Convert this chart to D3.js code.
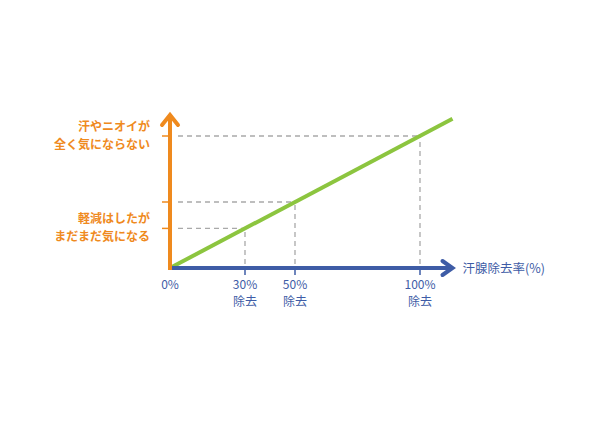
<!DOCTYPE html>
<html>
<head>
<meta charset="utf-8">
<script src="https://cdn.jsdelivr.net/npm/d3@7"></script>
<style>
  html, body { margin: 0; padding: 0; background: #fff; }
  svg { display: block; font-family: "Noto Sans CJK JP", sans-serif; }
</style>
</head>
<body>
<svg id="chart"></svg>
<script>
// removal rate levels marked on the x axis (%)
const levels = [0, 30, 50, 100];
const levelLabels = ['0%', '30%', '50%', '100%'];
const levelSub = ['', '除去', '除去', '除去'];
// effect line (removal % -> effect)
const lineX = [0, 113];
const lineY = [0, 113];
// y-axis annotations
const yLabelLevels = [100, 30];
const yLabels = [['汗やニオイが', '全く気にならない'], ['軽減はしたが', 'まだまだ気になる']];
const xTitle = '汗腺除去率(%)';

const width = 600, height = 425;
const orange = '#ef8a1e', blue = '#3e5ca6', green = '#8cc53f', grey = '#a9a9a9';

const svg = d3.select('#chart').attr('width', width).attr('height', height);

const x = d3.scaleLinear().domain([0, 100]).range([170, 420]);
const y = d3.scaleLinear().domain([0, 100]).range([268, 136]);

const xEnd = 113, yEnd = 116;

// dashed guides
const guides = svg.append('g')
  .attr('stroke', grey).attr('stroke-width', 1.3)
  .attr('stroke-dasharray', '5,4').attr('fill', 'none');
levels.filter(d => d > 0).forEach(v => {
  guides.append('line')
    .attr('x1', x(v)).attr('x2', x(v)).attr('y1', y(0) - 4).attr('y2', y(v));
  guides.append('line')
    .attr('x1', x(0) + 8).attr('x2', x(v)).attr('y1', y(v)).attr('y2', y(v));
});

// green line
svg.append('path')
  .datum(lineX.map((d, i) => [d, lineY[i]]))
  .attr('d', d3.line().x(d => x(d[0])).y(d => y(d[1])))
  .attr('stroke', green).attr('stroke-width', 4).attr('fill', 'none')
  .attr('stroke-linecap', 'butt');

// x axis (blue arrow)
svg.append('line')
  .attr('x1', x(0)).attr('x2', x(xEnd) - 2).attr('y1', y(0)).attr('y2', y(0))
  .attr('stroke', blue).attr('stroke-width', 4);
svg.append('path')
  .attr('d', `M${x(xEnd) - 10},${y(0) - 7} L${x(xEnd)},${y(0)} L${x(xEnd) - 10},${y(0) + 7}`)
  .attr('stroke', blue).attr('stroke-width', 4).attr('fill', 'none')
  .attr('stroke-linejoin', 'miter').attr('stroke-linecap', 'round');
svg.selectAll('.xtick')
  .data(levels.filter(d => d > 0))
  .join('line')
  .attr('x1', d => x(d)).attr('x2', d => x(d))
  .attr('y1', y(0)).attr('y2', y(0) + 7)
  .attr('stroke', blue).attr('stroke-width', 1.5);

// y axis (orange arrow)
svg.append('line')
  .attr('x1', x(0)).attr('x2', x(0)).attr('y1', y(0) + 2).attr('y2', y(yEnd) + 2)
  .attr('stroke', orange).attr('stroke-width', 4);
svg.append('path')
  .attr('d', `M${x(0) - 8},${y(yEnd) + 10} L${x(0)},${y(yEnd)} L${x(0) + 8},${y(yEnd) + 10}`)
  .attr('stroke', orange).attr('stroke-width', 4).attr('fill', 'none')
  .attr('stroke-linejoin', 'miter').attr('stroke-linecap', 'round');
svg.selectAll('.ytick')
  .data(levels.filter(d => d > 0))
  .join('line')
  .attr('x1', x(0) - 8).attr('x2', x(0))
  .attr('y1', d => y(d)).attr('y2', d => y(d))
  .attr('stroke', orange).attr('stroke-width', 1.5);

// x labels
const xl = svg.append('g').attr('fill', blue).attr('font-size', 12).attr('text-anchor', 'middle');
levels.forEach((v, i) => {
  xl.append('text').attr('x', x(v)).attr('y', y(0) + 21).text(levelLabels[i]);
  if (levelSub[i]) xl.append('text').attr('x', x(v)).attr('y', y(0) + 38).text(levelSub[i]);
});
svg.append('text')
  .attr('x', x(xEnd) + 10).attr('y', y(0) + 4.5)
  .attr('fill', blue).attr('font-size', 12.5)
  .text(xTitle);

// y labels
const yl = svg.append('g').attr('fill', orange).attr('font-size', 12)
  .attr('font-weight', 'bold').attr('text-anchor', 'end');
yLabelLevels.forEach((v, i) => {
  yl.append('text').attr('x', x(0) - 20).attr('y', y(v) - 5).text(yLabels[i][0]);
  yl.append('text').attr('x', x(0) - 20).attr('y', y(v) + 13).text(yLabels[i][1]);
});
</script>
</body>
</html>
